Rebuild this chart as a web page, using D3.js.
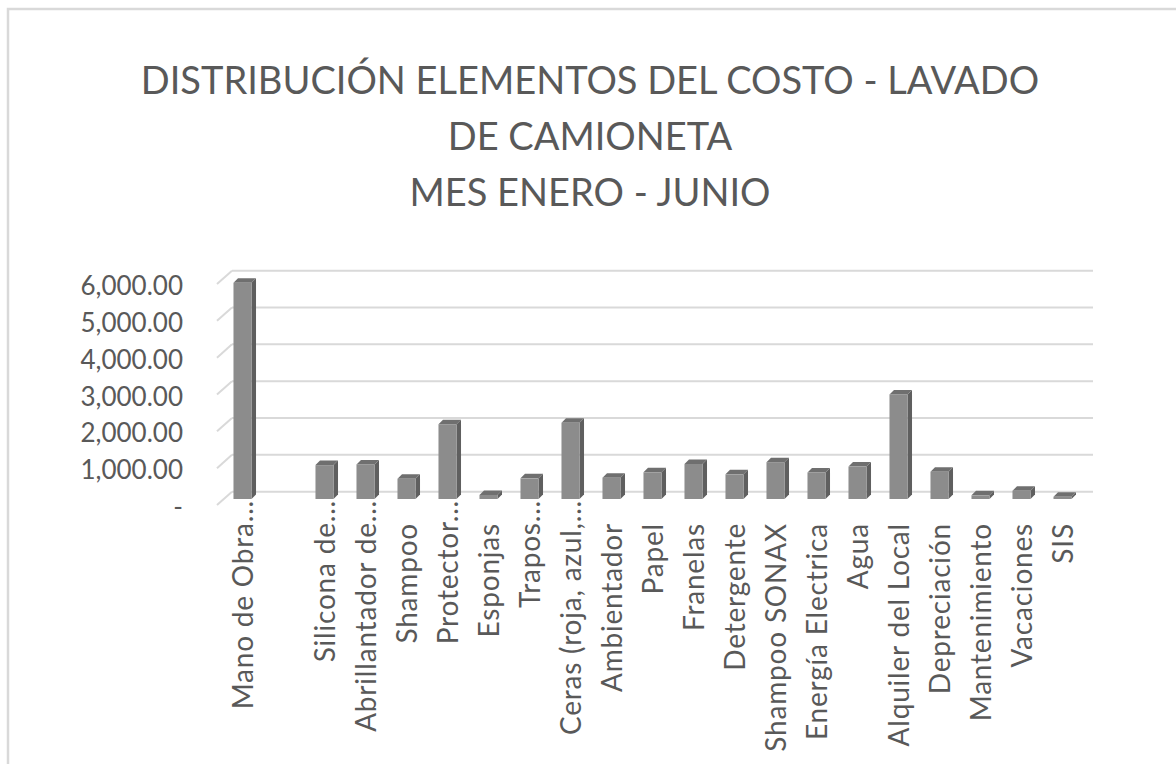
<!DOCTYPE html>
<html>
<head>
<meta charset="utf-8">
<script src="https://cdn.jsdelivr.net/npm/d3@7"></script>
<style>
  html, body { margin: 0; padding: 0; background: #ffffff; }
  svg { display: block; }
  text { font-family: Lato, "Open Sans", sans-serif; fill: #595959; }
</style>
</head>
<body>
<svg id="chart" width="1176" height="764"></svg>
<script>
const titleLines = ["DISTRIBUCIÓN ELEMENTOS DEL COSTO - LAVADO", "DE CAMIONETA", "MES ENERO - JUNIO"];
const categories = [
  "Mano de Obra...", "", "Silicona de...", "Abrillantador de...", "Shampoo",
  "Protector...", "Esponjas", "Trapos...", "Ceras (roja, azul,...", "Ambientador",
  "Papel", "Franelas", "Detergente", "Shampoo SONAX", "Energía Electrica",
  "Agua", "Alquiler del Local", "Depreciación", "Mantenimiento", "Vacaciones", "SIS"
];
const values = [
  5870, null, 920, 940, 550,
  2030, 110, 560, 2070, 580,
  725, 950, 670, 1000, 720,
  880, 2840, 740, 100, 225, 60
];
const yTicks = [0, 1000, 2000, 3000, 4000, 5000, 6000];
const yTickLabels = ["-", "1,000.00", "2,000.00", "3,000.00", "4,000.00", "5,000.00", "6,000.00"];

const svg = d3.select("#chart");

// chart border
svg.append("rect")
  .attr("x", 8).attr("y", 9).attr("width", 1200).attr("height", 800)
  .attr("fill", "none").attr("stroke", "#d9d9d9").attr("stroke-width", 2.5);

// title
svg.append("g").selectAll("text").data(titleLines).join("text")
  .attr("x", 590)
  .attr("y", (d, i) => 94 + i * 56)
  .attr("text-anchor", "middle")
  .attr("font-size", 38)
  .text(d => d);

// 3D geometry
const depthX = 15, depthY = 13.3;     // wall depth (back wall offset)
const backLeft = 232, backRight = 1093;
const yBack = d3.scaleLinear().domain([0, 6000]).range([491.7, 270.7]);
const yFront = d3.scaleLinear().domain([0, 6000]).range([499, 278]);
const x = d3.scaleBand().domain(categories.map((c, i) => i))
  .range([222, 1083]).paddingInner(0.56).paddingOuter(0.28);

// gridlines on back wall + side wall
const grid = svg.append("g");
yTicks.forEach(t => {
  const yb = yBack(t);
  grid.append("line")
    .attr("x1", backLeft).attr("x2", backRight)
    .attr("y1", yb).attr("y2", yb)
    .attr("stroke", "#d9d9d9").attr("stroke-width", 2);
  grid.append("line")
    .attr("x1", backLeft - depthX).attr("y1", yb + depthY)
    .attr("x2", backLeft).attr("y2", yb)
    .attr("stroke", "#d9d9d9").attr("stroke-width", 2);
});

// y axis labels
svg.append("g").selectAll("text").data(yTicks).join("text")
  .attr("x", 183)
  .attr("y", d => yBack(d) + depthY + 2)
  .attr("dy", "0.35em")
  .attr("text-anchor", "end")
  .attr("font-size", 26)
  .text((d, i) => yTickLabels[i]);

// bars
const bw = x.bandwidth();
const bd = 4.5; // bar depth offset
const bars = svg.append("g");
values.forEach((v, i) => {
  if (v === null) return;
  const x0 = x(i), x1 = x0 + bw;
  const yb = yFront(0), yt = yFront(v);
  bars.append("path")
    .attr("d", `M${x1},${yb}L${x1 + bd},${yb - bd}L${x1 + bd},${yt - bd}L${x1},${yt}Z`)
    .attr("fill", "#5f5f5f");
  bars.append("path")
    .attr("d", `M${x0},${yt}L${x0 + bd},${yt - bd}L${x1 + bd},${yt - bd}L${x1},${yt}Z`)
    .attr("fill", "#6f6f6f");
  bars.append("rect")
    .attr("x", x0).attr("y", yt).attr("width", bw).attr("height", yb - yt)
    .attr("fill", "#8c8c8c");
});

// category labels
svg.append("g").selectAll("text").data(categories).join("text")
  .attr("transform", (d, i) => {
    const cx = x(i) + bw / 2 + 1;
    const yEnd = d.endsWith("...") ? 500 : 523;
    return `translate(${cx},${yEnd}) rotate(-90)`;
  })
  .attr("dy", "0.35em")
  .attr("text-anchor", "end")
  .attr("font-size", 28)
  .attr("letter-spacing", 0.8)
  .text(d => d);
</script>
</body>
</html>
